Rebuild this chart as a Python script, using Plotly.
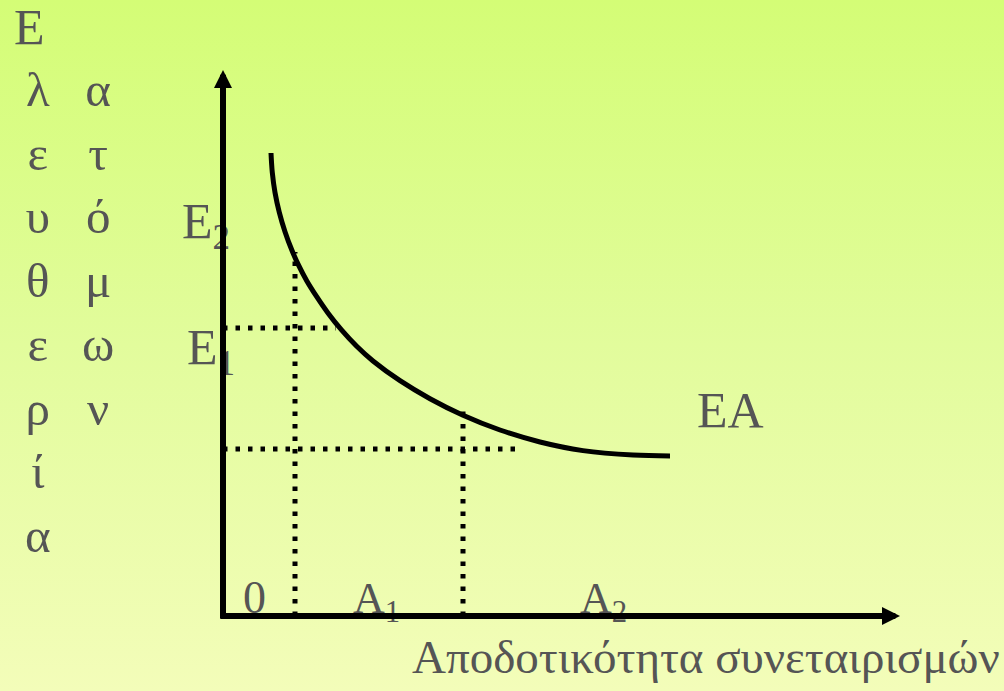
import plotly.graph_objects as go

# chart data (abstract units, origin at the corner of the axes)
curve_x = [0.48, 0.493, 0.52, 0.563, 0.62, 0.687, 0.753, 0.837, 0.937, 1.053, 1.187, 1.337,
           1.50, 1.77, 2.07, 2.40, 2.77, 3.17, 3.60, 4.10, 4.47]
curve_y = [4.63, 4.435, 4.235, 4.037, 3.843, 3.662, 3.513, 3.353, 3.193, 3.025, 2.858, 2.697,
           2.55, 2.353, 2.173, 2.008, 1.86, 1.74, 1.654, 1.609, 1.60]

a1_x, e2_y = 0.72, 3.64      # first point on the curve
a2_x, e1_top = 2.40, 2.12    # second point on the curve
e_high, e_high_end = 2.88, 1.13
e_low, e_low_end = 1.67, 2.99

x_axis_end = 6.77
y_axis_end = 5.46

col1 = ["λ", "ε", "υ", "θ", "ε", "ρ", "ί", "α"]
col2 = ["α", "τ", "ό", "μ", "ω", "ν"]

bg_colors = [[0, "#f3fdb9"], [0.5, "#e2fc9c"], [1, "#d4fd76"]]

FONT = "Liberation Serif, Times New Roman, DejaVu Serif, serif"
GREY = "#555555"

fig = go.Figure()

# background gradient on its own axes
fig.add_trace(go.Scatter(x=[0, 1, 1, 0, 0], y=[0, 0, 1, 1, 0], mode="lines",
                         line=dict(width=0), fill="toself",
                         fillgradient=dict(type="vertical", colorscale=bg_colors),
                         hoverinfo="skip", xaxis="x", yaxis="y"))

dots = dict(color="black", width=5, dash="4.5px,8px")
fig.add_trace(go.Scatter(x=[a1_x, a1_x], y=[0, e2_y], mode="lines", line=dots, xaxis="x2", yaxis="y2"))
fig.add_trace(go.Scatter(x=[a2_x, a2_x], y=[0, e1_top], mode="lines", line=dots, xaxis="x2", yaxis="y2"))
fig.add_trace(go.Scatter(x=[0, e_high_end], y=[e_high, e_high], mode="lines", line=dots, xaxis="x2", yaxis="y2"))
fig.add_trace(go.Scatter(x=[0, e_low_end], y=[e_low, e_low], mode="lines", line=dots, xaxis="x2", yaxis="y2"))

fig.add_trace(go.Scatter(x=curve_x, y=curve_y, mode="lines", line_shape="spline",
                         line=dict(color="black", width=5), xaxis="x2", yaxis="y2"))


def label(text, x, y, size, xanchor="left", yanchor="top", align="left"):
    fig.add_annotation(text=text, x=x, y=y, xref="x2", yref="y2", showarrow=False,
                       xanchor=xanchor, yanchor=yanchor, align=align,
                       borderpad=0, borderwidth=0,
                       font=dict(family=FONT, size=size, color=GREY))


label("Ε", -1.94, 5.89, 50, xanchor="center", yanchor="middle")
label("<br>".join(col1), -1.85, 5.54, 49, xanchor="center", align="center")
label("<br>".join(col2), -1.25, 5.54, 49, xanchor="center", align="center")
label("Ε<sub>2</sub>", -0.41, 4.235, 50)
label("Ε<sub>1</sub>", -0.36, 2.975, 50)
label("0", 0.31, 0.44, 46, xanchor="center")
label("Α<sub>1</sub>", 1.30, 0.42, 44)
label("Α<sub>2</sub>", 3.57, 0.42, 44)
label("ΕΑ", 4.74, 2.345, 50)
label("Αποδοτικότητα συνεταιρισμών", 7.77, -0.15, 47, xanchor="right")

# axes with arrow heads, drawn last so they sit over the labels
for tip, tail in [((0, y_axis_end), (0, -0.03)), ((x_axis_end, 0), (-0.03, 0))]:
    fig.add_annotation(x=tip[0], y=tip[1], ax=tail[0], ay=tail[1], text="",
                       xref="x2", yref="y2", axref="x2", ayref="y2",
                       showarrow=True, arrowhead=2, arrowsize=0.6, arrowwidth=6,
                       arrowcolor="black", standoff=0, startstandoff=0, borderpad=0)

hidden = dict(visible=False, fixedrange=True)
fig.update_layout(
    width=1004, height=691,
    margin=dict(l=0, r=0, t=0, b=0),
    showlegend=False,
    paper_bgcolor="#e6fca6",
    plot_bgcolor="rgba(0,0,0,0)",
    xaxis=dict(range=[0, 1], domain=[0, 1], **hidden),
    yaxis=dict(range=[0, 1], domain=[0, 1], **hidden),
    xaxis2=dict(range=[-2.23, 7.81], overlaying="x", **hidden),
    yaxis2=dict(range=[-0.75, 6.16], overlaying="y", **hidden),
)

fig.write_html("out.html", config={"displayModeBar": False},
               post_script="document.body.style.margin = '0';")
